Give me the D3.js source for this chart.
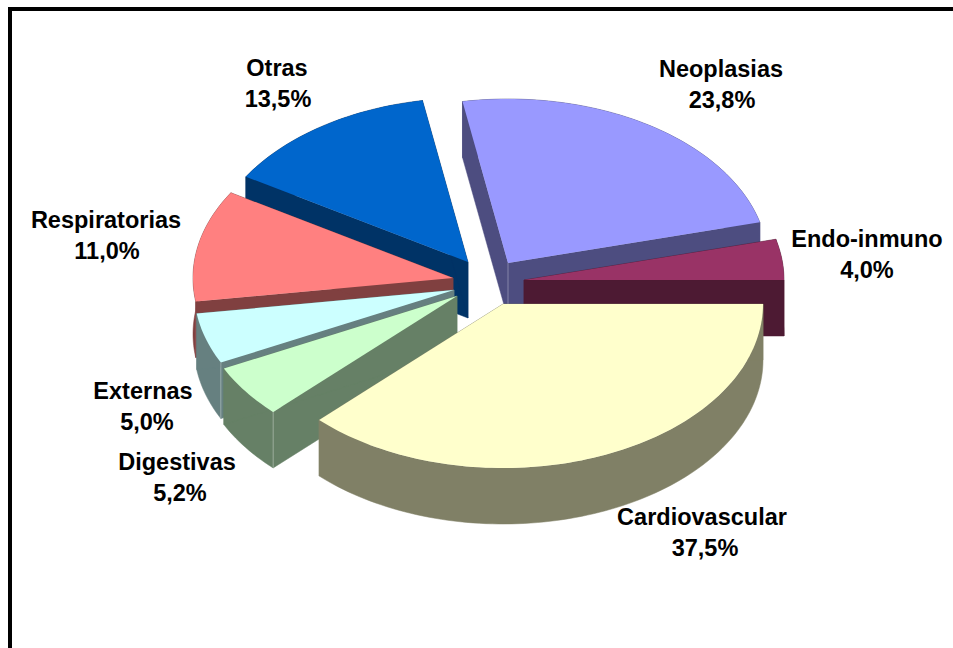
<!DOCTYPE html>
<html lang="es"><head><meta charset="utf-8">
<script src="https://cdn.jsdelivr.net/npm/d3@7"></script>
<style>html,body{margin:0;padding:0;background:#fff;overflow:hidden}
svg{display:block}text{font-family:"Liberation Sans",Arial,sans-serif;font-weight:700;font-size:23.5px;fill:#000;text-anchor:middle}</style>
</head><body><svg id="c" width="953" height="648"></svg>
<script>
// Data, clockwise from the 3 o'clock position
const categories = ["Cardiovascular","Digestivas","Externas","Respiratorias","Otras","Neoplasias","Endo-inmuno"];
const shares = [37.5,5.2,5.0,11.0,13.5,23.8,4.0];
const shareLabels = ["37,5%","5,2%","5,0%","11,0%","13,5%","23,8%","4,0%"];
const topColors = ["#FFFFCC","#CCFFCC","#CCFFFF","#FF8080","#0066CC","#9999FF","#993366"];

// Layout: pie geometry, how far each slice is pulled out, where each label sits
const W=953,H=648, cx=483, cy=280, rx=260, ry=164, depth=56;
const explodeX=[20,-26,-29,-30,-15,25,41];
const explodeY=[24,16,10,-2,-18,-17,0];
const labelX=[702,177,143,106,277,721,867];
const valueX=[705,180,147,107,278,722,867];
const labelY=[525,470,399,228,76,77,247];
const paintOrder=[4,5,6,3,2,1,0];
// visible vertical seams: slice index -> "apex" or "rim"
const seams=new Map([[5,"apex"],[1,"rim"],[2,"rim"]]);

const svg=d3.select("#c");
svg.append("path").attr("d",`M${W},9H10V${H}`).attr("fill","none").attr("stroke","#000").attr("stroke-width",4);

const arcs=d3.pie().sort(null).startAngle(Math.PI/2).endAngle(Math.PI/2+2*Math.PI)(shares);
const line=d3.line();
function dark(c){const k=d3.rgb(c);return d3.rgb(k.r/2,k.g/2,k.b/2).formatHex();}
const drop=p=>[p[0],p[1]+depth];

paintOrder.forEach(i=>{
  const a=arcs[i], ax=cx+explodeX[i], ay=cy+explodeY[i];
  const steps=Math.max(8,Math.ceil((a.endAngle-a.startAngle)*40));
  const rim=d3.range(steps+1).map(s=>{
    const t=a.startAngle+(a.endAngle-a.startAngle)*s/steps;
    return [ax+rx*Math.sin(t), ay-ry*Math.cos(t)];
  });
  const apex=[ax,ay], outline=[apex,...rim];
  const g=svg.append("g");
  const wall=dark(topColors[i]);
  // walls of the solid: the rim band and the two cut faces
  [[...rim,...rim.map(drop).reverse()],
   [apex,rim[0],drop(rim[0]),drop(apex)],
   [apex,rim[steps],drop(rim[steps]),drop(apex)]].forEach(poly=>{
    g.append("path").attr("d",line(poly)+"Z").attr("fill",wall).attr("stroke",wall).attr("stroke-width",.5);
  });
  if(seams.has(i)){
    const p=seams.get(i)==="apex"?apex:rim[0];
    g.append("line").attr("x1",p[0]).attr("y1",p[1]).attr("x2",p[0]).attr("y2",p[1]+depth)
      .attr("stroke","#fff").attr("stroke-opacity",.4).attr("stroke-width",.8);
  }
  g.append("path").attr("d",line(outline)+"Z").attr("fill",topColors[i]);
});

categories.forEach((c,i)=>{
  const t=svg.append("text").attr("y",labelY[i]);
  t.append("tspan").attr("x",labelX[i]).text(c);
  t.append("tspan").attr("x",valueX[i]).attr("dy",31).text(shareLabels[i]);
});
</script></body></html>
